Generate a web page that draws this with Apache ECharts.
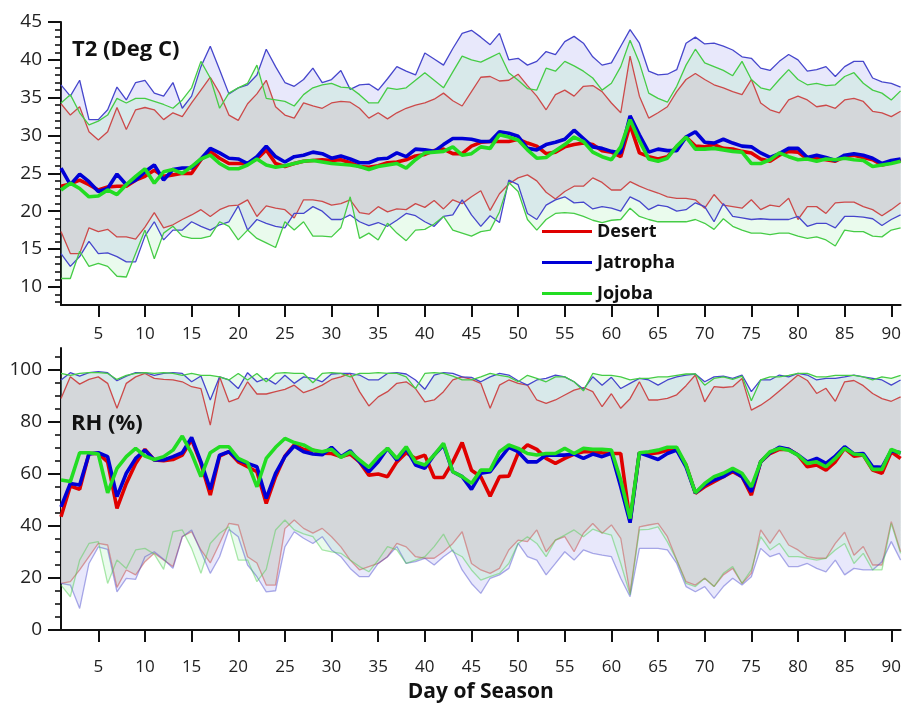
<!DOCTYPE html>
<html><head><meta charset="utf-8">
<script src="https://cdn.jsdelivr.net/npm/echarts@6/dist/echarts.min.js"></script>
<style>html,body{margin:0;padding:0;background:#fff}#c{width:904px;height:705px}</style>
</head><body><div id="c"></div>
<script>
// ---------- categories & ticks ----------
const days = Array.from({length: 91}, (_, i) => i + 1);
const xTickDays = [5,10,15,20,25,30,35,40,45,50,55,60,65,70,75,80,85,90];
const t2Ticks = [10,15,20,25,30,35,40,45];
const t2Minor = [8,9,11,12,13,14,16,17,18,19,21,22,23,24,26,27,28,29,31,32,33,34,36,37,38,39,41,42,43,44];
const rhTicks = [0,20,40,60,80,100];
const rhMinor = [5,10,15,25,30,35,45,50,55,65,70,75,85,90,95,105];

// ---------- T2 (Deg C) ----------
const desertMean = [23.3,23.6,24.1,23.5,22.8,23.2,23.3,23.3,24.1,24.6, 25.4,24.6,24.8,25.0,25.0,26.8,27.9,27.0,26.3,26.3, 26.3,26.9,28.1,26.3,25.9,26.3,26.6,26.7,26.8,26.7, 26.8,26.4,25.9,25.8,26.0,26.4,26.5,26.8,27.3,27.5, 28.0,28.2,27.6,27.6,28.6,29.1,29.2,29.2,29.2,29.5, 29.0,28.6,27.6,27.8,28.5,28.8,29.0,28.8,28.0,27.8, 27.2,31.4,27.7,27.2,26.9,27.2,28.5,29.8,28.6,28.5, 28.8,28.3,28.2,27.9,27.7,26.9,26.6,27.4,27.9,27.8, 26.9,27.0,26.8,26.6,27.2,27.4,27.1,26.8,26.1,26.4,26.8];
const jatrophaMean = [25.7,23.5,24.9,23.9,22.6,23.0,24.9,23.5,24.1,25.2, 26.1,24.1,25.5,25.7,25.7,26.9,28.3,27.7,27.0,26.9, 26.3,27.2,28.6,27.2,26.5,27.2,27.4,27.8,27.6,27.0, 27.3,26.9,26.4,26.4,26.9,27.0,27.7,27.2,28.2,28.1, 27.9,28.8,29.6,29.6,29.5,29.2,29.2,30.5,30.3,29.9, 28.3,28.1,28.8,29.1,29.5,30.7,29.6,28.5,28.3,27.9, 27.7,32.6,30.1,27.8,28.2,28.0,28.0,29.8,30.5,29.1, 29.0,29.5,29.0,28.6,28.5,27.7,27.1,27.6,28.3,28.3, 27.1,27.4,27.1,26.7,27.4,27.6,27.4,27.0,26.3,26.7,26.9];
const jojobaMean = [22.8,23.7,23.0,21.9,22.0,22.8,22.2,23.5,24.6,25.6, 23.7,25.2,25.5,25.0,25.9,26.9,27.4,26.3,25.6,25.6, 26.1,26.9,26.1,25.8,26.0,26.3,26.6,26.7,26.5,26.3, 26.2,26.1,25.9,25.5,25.9,26.1,26.3,25.7,26.8,27.7, 27.8,27.9,28.5,27.4,27.6,28.5,28.3,30.1,29.8,29.4, 28.1,27.0,27.1,28.0,28.8,29.8,29.2,27.8,27.2,26.8, 28.5,32.1,29.3,26.9,26.6,27.0,28.6,29.8,28.2,28.2, 28.3,28.1,27.9,27.8,26.3,26.3,26.8,27.7,27.2,26.8, 26.9,26.6,26.9,26.8,27.0,26.8,26.7,25.9,26.1,26.3,26.6];
const desertMax = [34.2,32.7,33.8,30.5,29.4,30.5,33.7,30.8,33.4,33.7, 33.4,32.1,33.0,32.5,34.3,36.0,37.7,35.6,32.7,32.0, 34.2,35.5,37.3,33.8,32.7,32.3,34.3,33.9,33.6,34.3, 34.5,34.4,33.6,32.3,33.0,32.2,33.0,33.6,34.0,34.3, 34.8,35.6,34.6,33.9,35.8,37.7,37.8,37.2,37.3,38.1, 36.6,35.2,33.4,35.4,36.0,35.2,36.5,36.6,35.8,34.3, 33.0,40.5,35.2,32.3,33.0,33.8,35.8,37.4,38.2,37.4, 36.7,36.3,35.8,35.4,37.4,34.3,33.4,33.0,34.7,35.2, 34.7,33.8,34.0,33.6,34.7,34.9,34.5,33.2,33.0,32.5,33.2];
const jatrophaMax = [36.7,35.2,37.3,32.1,32.1,33.4,36.4,34.7,37.0,37.3, 35.6,35.2,37.0,33.6,35.2,39.1,41.8,38.7,35.5,36.3, 36.7,38.0,41.4,39.1,37.0,36.5,37.4,38.9,37.0,37.4, 38.6,36.1,36.7,36.8,36.0,37.5,39.1,38.5,38.0,40.9, 40.1,39.3,41.5,43.5,43.9,43.0,42.0,43.5,40.0,40.2, 39.3,39.8,41.1,40.7,42.4,43.1,42.2,40.4,39.3,39.6, 41.8,44.0,42.2,38.5,38.0,38.1,38.7,42.2,43.0,42.1, 42.2,41.8,41.3,40.4,40.2,38.9,38.6,39.8,40.7,40.0, 38.5,38.7,39.1,37.8,39.1,39.8,39.8,37.6,37.1,36.9,36.4];
const jojobaMax = [34.3,35.4,33.0,31.4,31.9,32.7,34.9,34.3,34.9,34.9, 34.5,34.1,33.6,34.7,36.3,39.8,37.6,33.6,35.6,36.3, 36.9,39.3,34.9,34.7,34.5,33.9,35.4,36.3,36.7,36.9, 36.4,36.3,35.4,34.3,34.3,36.3,36.1,36.3,37.3,38.3, 37.3,36.3,38.4,40.5,40.0,39.7,40.3,40.9,38.3,37.3, 36.2,36.0,38.9,38.5,39.8,39.2,38.5,37.6,36.0,36.9, 39.1,42.6,39.6,35.6,34.9,34.4,36.5,39.3,41.4,39.6, 39.1,38.6,37.9,39.8,37.4,36.3,36.0,37.4,38.7,37.4, 36.7,36.9,36.6,36.7,37.8,38.3,36.9,36.0,35.6,34.7,35.9];
const desertMin = [17.3,14.4,14.4,17.8,17.3,17.6,16.6,16.6,16.3,17.9, 19.8,17.8,18.2,18.9,19.5,20.2,19.3,20.2,20.7,20.8, 21.5,19.3,20.7,20.4,20.2,19.1,21.5,21.5,21.3,20.8, 21.0,21.5,19.8,19.6,20.6,19.9,20.3,20.2,21.0,20.5, 21.4,20.3,21.5,21.0,21.9,22.7,20.1,22.3,23.6,24.4, 24.8,24.0,22.5,21.6,22.6,23.3,23.3,24.4,23.8,22.8, 22.8,23.9,23.3,22.8,22.4,21.9,21.7,21.7,21.5,20.4, 22.2,20.8,20.6,20.4,21.5,20.2,20.8,20.6,21.7,18.9, 20.6,20.6,19.7,21.1,21.2,21.2,20.6,20.2,19.4,20.2,21.1];
const jatrophaMin = [14.4,12.7,14.0,16.0,14.4,14.5,14.0,13.3,13.3,16.7, 18.6,16.2,17.5,17.5,18.6,18.0,17.5,18.2,18.6,20.7, 17.5,18.9,18.4,18.0,17.8,19.7,19.7,20.6,20.0,18.9, 18.9,19.5,18.6,18.1,18.5,18.0,18.8,19.7,19.4,18.6, 18.0,19.3,19.5,21.5,19.5,18.0,19.4,18.5,24.1,23.5, 19.7,18.9,20.8,21.5,21.9,21.1,21.2,20.3,20.6,20.4, 20.0,21.9,21.3,20.2,20.8,20.6,20.0,20.2,21.1,20.6, 18.6,21.0,19.3,19.1,18.9,19.0,18.9,18.9,18.9,19.3, 18.0,18.4,18.4,17.8,19.3,19.3,19.2,19.0,18.1,18.9,19.5];
const jojobaMin = [11.1,11.1,14.7,12.7,13.1,12.7,11.4,11.3,14.4,17.5, 13.7,17.1,18.0,16.7,16.4,16.4,16.7,18.6,18.0,16.2, 17.5,16.4,15.8,15.2,18.6,17.5,18.6,16.7,16.7,16.6, 17.8,21.9,16.4,17.1,16.2,18.4,17.1,16.1,17.5,17.6, 18.3,19.3,17.5,17.1,16.7,17.3,17.5,19.9,23.8,22.6, 18.9,17.5,18.9,19.7,19.8,19.7,19.3,18.8,18.5,18.8, 18.9,20.4,19.3,18.9,18.6,18.6,18.6,18.6,18.9,18.4, 17.6,19.0,18.0,17.5,17.1,17.1,16.9,17.1,17.1,16.7, 16.4,16.6,16.2,15.4,17.5,17.3,17.3,16.7,16.6,17.5,17.8];

// ---------- RH (%) ----------
const desertRHMean = [43.6,55.4,54.1,67.9,67.9,64.7,46.8,56.4,64.1,69.5, 65.4,65.1,65.6,67.3,73.3,64.1,51.9,66.9,68.6,64.7, 62.8,60.9,48.7,59.0,66.9,71.2,69.5,69.2,68.0,67.9, 66.7,67.7,64.7,59.6,60.0,59.0,64.7,68.2,66.0,67.3, 58.7,58.7,64.7,72.1,61.5,59.0,51.5,59.0,59.2,68.0, 71.2,69.5,66.0,64.1,66.0,67.7,68.6,68.6,68.2,67.9, 67.9,41.7,68.2,67.7,68.2,69.2,69.5,63.5,52.6,55.1, 57.1,59.0,60.9,59.0,51.9,64.7,67.9,69.5,69.5,67.3, 62.8,63.5,61.5,64.7,69.9,66.9,67.3,61.5,60.3,68.6,66.0];
const jatrophaRHMean = [47.4,56.4,55.8,67.7,68.2,66.7,51.3,60.3,66.0,69.2, 65.4,65.4,66.7,68.2,74.1,64.7,54.1,67.3,68.6,65.4, 64.1,62.8,50.6,60.3,66.7,70.8,68.6,67.7,67.4,70.3, 66.7,69.0,64.7,60.9,64.7,69.9,65.4,69.9,63.5,62.2, 67.3,71.2,60.9,59.0,54.1,60.3,60.9,65.6,70.3,68.6, 64.7,64.7,67.3,67.3,67.3,67.7,66.0,67.7,66.7,68.0, 55.1,41.3,68.2,66.9,65.6,67.9,69.2,62.8,52.8,55.8, 57.7,59.0,61.5,59.0,53.2,64.7,68.2,70.3,69.5,67.3, 64.7,66.0,64.1,66.9,70.5,67.7,67.9,62.8,62.6,69.0,68.2];
const jojobaRHMean = [57.7,57.1,68.2,68.2,67.7,52.8,62.2,66.7,69.9,66.9, 65.6,66.7,69.2,74.6,67.9,59.0,68.2,70.5,70.5,66.0, 64.4,55.1,66.0,70.3,73.7,72.1,71.2,69.2,68.6,69.5, 66.4,68.5,65.4,62.6,66.7,69.9,66.0,70.5,64.7,63.5, 67.3,71.8,60.9,59.0,56.4,61.5,61.5,68.6,71.2,69.9, 67.9,67.3,67.9,67.9,69.9,67.9,69.9,69.5,69.5,69.2, 57.7,42.9,68.2,68.6,69.2,70.3,70.3,63.5,52.8,56.4, 59.0,60.3,62.2,60.3,55.1,64.7,68.6,69.9,69.2,67.3, 64.1,64.7,62.8,66.0,69.9,67.7,67.3,61.8,61.8,69.5,68.0];
const desertRHMax = [89.1,97.4,94.6,96.4,97.4,94.9,85.3,94.9,97.4,98.7, 96.8,96.4,96.2,95.5,93.6,92.9,78.8,97.4,87.8,89.1, 95.5,90.8,90.8,91.7,92.6,94.2,91.3,92.6,94.2,96.4, 97.4,98.7,91.7,86.2,89.7,91.7,94.9,95.5,92.9,87.8, 88.5,91.7,96.2,97.4,96.4,94.9,85.3,94.2,96.2,94.9, 94.2,88.5,87.2,88.5,90.4,92.3,93.3,91.7,85.9,90.9, 85.3,89.0,95.5,88.5,88.5,89.1,90.5,94.0,98.1,87.8, 93.6,93.3,93.6,96.8,84.6,86.5,89.0,92.0,95.0,98.1, 96.0,91.0,93.0,88.0,95.5,96.0,94.0,91.0,89.0,88.0,89.7];
const jatrophaRHMax = [96.2,99.0,97.7,99.0,99.4,99.0,95.9,97.7,99.0,99.0, 98.0,98.7,99.0,98.7,95.5,97.7,88.5,97.4,96.2,92.9, 99.0,95.5,96.8,94.6,98.0,94.9,97.4,96.8,95.5,98.5, 98.7,98.7,98.1,96.2,96.2,98.7,99.0,98.5,96.2,92.6, 98.1,99.0,98.7,97.4,97.2,95.5,97.4,98.7,98.1,95.9, 94.2,96.2,96.8,98.1,97.4,95.5,92.6,97.4,94.2,97.2, 92.9,94.9,96.8,96.2,94.2,96.2,97.4,98.1,98.5,95.5, 97.4,97.7,96.8,98.1,91.7,96.2,96.2,98.1,97.4,98.7, 98.1,96.2,96.8,96.8,97.4,98.1,97.4,96.8,96.2,94.2,96.2];
const jojobaRHMax = [98.7,98.0,98.7,99.0,99.0,98.7,96.4,98.0,98.7,99.0, 98.7,99.0,98.7,98.0,98.7,98.0,98.0,97.4,96.2,98.7, 96.2,98.7,95.5,98.7,99.0,98.7,98.7,95.1,98.7,99.0, 98.7,97.4,98.7,98.7,99.0,98.7,98.7,97.4,92.9,98.7, 99.0,98.7,97.7,96.2,96.2,97.4,98.7,98.0,97.4,95.5, 98.0,96.8,95.5,97.4,97.4,95.5,92.0,98.7,98.0,98.0, 97.4,96.2,96.8,96.8,97.4,97.4,98.0,98.5,98.5,94.2, 96.8,97.4,96.4,97.7,88.2,96.2,97.4,97.4,98.0,98.7, 98.7,97.4,97.4,98.0,98.0,98.0,97.4,96.2,97.4,96.8,98.0];
const desertRHMin = [17.9,18.6,23.1,28.2,33.3,32.7,16.4,23.1,21.2,26.3, 29.5,26.9,24.4,35.9,37.8,30.8,25.8,33.3,41.0,40.4, 28.2,25.8,17.3,17.3,39.0,42.3,39.1,37.3,39.1,35.9, 32.0,26.9,23.1,24.4,25.6,28.2,33.3,32.0,28.2,27.6, 27.6,30.1,33.3,37.8,25.6,23.1,21.8,23.7,30.8,34.6, 34.0,38.5,30.1,34.6,35.9,30.1,37.2,41.0,37.2,40.4, 35.3,14.1,39.7,40.4,41.0,35.9,26.9,18.6,17.3,19.9, 16.7,21.2,23.7,17.9,21.8,38.5,33.3,38.5,32.7,30.8, 28.2,27.6,27.6,33.3,37.6,28.8,32.1,25.0,25.0,41.7,30.1];
const jatrophaRHMin = [17.9,17.3,8.3,25.6,32.0,31.0,14.7,19.9,19.5,28.2, 30.1,27.2,23.7,35.9,38.5,30.1,21.8,28.2,38.7,35.9, 25.0,20.5,14.7,15.1,32.0,37.8,35.3,33.3,35.9,30.8, 28.2,23.7,20.5,20.5,25.6,28.2,32.1,25.6,26.3,27.6, 25.0,28.2,30.8,23.1,17.9,14.1,19.9,21.2,23.7,33.3, 28.2,26.9,21.2,25.6,30.1,26.9,30.8,29.5,28.8,28.2, 19.9,12.8,31.4,31.4,31.4,30.8,25.6,16.7,14.7,16.7, 12.2,16.7,19.9,17.3,20.5,31.4,28.2,29.5,24.4,24.4, 25.6,23.7,22.4,26.9,21.2,23.7,23.1,23.1,26.3,34.0,26.9];
const jojobaRHMin = [17.3,12.8,26.9,33.3,34.0,17.9,26.9,23.7,30.8,31.4, 29.2,23.3,37.8,38.5,31.4,21.8,33.3,37.2,39.7,26.9, 26.9,18.6,23.3,38.5,42.3,38.5,37.0,35.9,30.8,30.1, 29.5,26.9,24.4,22.4,26.9,32.1,30.8,25.6,26.9,28.2, 32.1,36.9,30.1,28.2,23.1,19.2,20.5,21.8,25.6,33.3, 35.9,33.3,28.2,34.6,36.5,38.5,35.9,38.8,37.5,36.5, 25.6,13.5,38.5,38.7,39.7,33.9,26.9,17.9,16.7,19.9, 16.7,21.8,24.4,17.9,23.1,35.9,30.8,33.3,28.2,28.2, 27.6,26.9,27.6,30.8,33.3,25.6,29.5,23.1,23.1,41.0,29.5];

// ---------- styling ----------
const FONT = '"Open Sans", "DejaVu Sans", sans-serif';
const C = {
  desert:  {mean:'#e00000', env:'#cc4a4a', fill:'rgba(212,212,215,0.85)'},
  jatropha:{mean:'#0000d6', env:'#4646cc', fill:'rgba(160,160,240,0.24)'},
  jojoba:  {mean:'#22dd22', env:'#46cc46', fill:'rgba(160,235,175,0.22)'}
};

function bandSeries(id, lo, hi, fill, xi, yi) {
  return [
    {type:'line', name:id+'-lo', xAxisIndex:xi, yAxisIndex:yi, data:lo, stack:id, symbol:'none',
     lineStyle:{opacity:0}, silent:true, z:1, animation:false},
    {type:'line', name:id+'-hi', xAxisIndex:xi, yAxisIndex:yi, data:hi.map((v,i)=>+(v-lo[i]).toFixed(2)), stack:id, symbol:'none',
     lineStyle:{opacity:0}, areaStyle:{color:fill, opacity:1}, silent:true, z:1, animation:false}
  ];
}
function envSeries(id, data, color, xi, yi, op) {
  return {type:'line', name:id, xAxisIndex:xi, yAxisIndex:yi, data, symbol:'none', silent:true, z:3, animation:false,
    lineStyle:{color, width:1.3, opacity:op}};
}
function meanSeries(name, data, color, xi, yi, z) {
  return {type:'line', name, xAxisIndex:xi, yAxisIndex:yi, data, symbol:'none', silent:true, z, animation:false,
    itemStyle:{color}, lineStyle:{color, width:3.6}};
}

const series = [];
// top panel
series.push(...bandSeries('tJ', jatrophaMin, jatrophaMax, C.jatropha.fill, 0, 0));
series.push(...bandSeries('tG', jojobaMin, jojobaMax, C.jojoba.fill, 0, 0));
series.push(...bandSeries('tD', desertMin, desertMax, C.desert.fill, 0, 0));
series.push(envSeries('tDmax', desertMax, C.desert.env, 0, 0, 1));
series.push(envSeries('tJmax', jatrophaMax, C.jatropha.env, 0, 0, 1));
series.push(envSeries('tGmax', jojobaMax, C.jojoba.env, 0, 0, 1));
series.push(envSeries('tDmin', desertMin, C.desert.env, 0, 0, 1));
series.push(envSeries('tJmin', jatrophaMin, C.jatropha.env, 0, 0, 1));
series.push(envSeries('tGmin', jojobaMin, C.jojoba.env, 0, 0, 1));
series.push(meanSeries('Desert', desertMean, C.desert.mean, 0, 0, 5));
series.push(meanSeries('Jatropha', jatrophaMean, C.jatropha.mean, 0, 0, 6));
series.push(meanSeries('Jojoba', jojobaMean, C.jojoba.mean, 0, 0, 7));
// bottom panel
series.push(...bandSeries('rJ', jatrophaRHMin, jatrophaRHMax, C.jatropha.fill, 1, 2));
series.push(...bandSeries('rG', jojobaRHMin, jojobaRHMax, C.jojoba.fill, 1, 2));
series.push(...bandSeries('rD', desertRHMin, desertRHMax, C.desert.fill, 1, 2));
series.push(envSeries('rDmax', desertRHMax, C.desert.env, 1, 2, 1));
series.push(envSeries('rJmax', jatrophaRHMax, C.jatropha.env, 1, 2, 1));
series.push(envSeries('rGmax', jojobaRHMax, C.jojoba.env, 1, 2, 1));
series.push(envSeries('rDmin', desertRHMin, C.desert.env, 1, 2, 0.5));
series.push(envSeries('rJmin', jatrophaRHMin, C.jatropha.env, 1, 2, 0.45));
series.push(envSeries('rGmin', jojobaRHMin, C.jojoba.env, 1, 2, 0.45));
series.push(meanSeries('Desert', desertRHMean, C.desert.mean, 1, 2, 5));
series.push(meanSeries('Jatropha', jatrophaRHMean, C.jatropha.mean, 1, 2, 6));
series.push(meanSeries('Jojoba', jojobaRHMean, C.jojoba.mean, 1, 2, 7));

const isTick = (i, v) => xTickDays.indexOf(+v) >= 0;
function xAxisDef(gi, margin, extra) {
  return Object.assign({
    type:'category', gridIndex:gi, data:days, boundaryGap:false,
    axisLine:{lineStyle:{color:'#111', width:2}},
    axisTick:{length:12, interval:isTick, lineStyle:{color:'#111', width:2}},
    axisLabel:{interval:isTick, margin, fontSize:17, color:'#222', fontFamily:FONT},
    splitLine:{show:false}
  }, extra || {});
}
function yMain(gi, min, max, ticks) {
  return {type:'value', gridIndex:gi, min, max, position:'left', offset:0,
    axisLine:{show:true, lineStyle:{color:'#111', width:2}},
    axisTick:{show:true, length:13, customValues:ticks, lineStyle:{color:'#111', width:2}},
    axisLabel:{customValues:ticks, margin:19, fontSize:19, color:'#222', fontFamily:FONT},
    splitLine:{show:false}};
}
function yMinor(gi, min, max, ticks) {
  return {type:'value', gridIndex:gi, min, max, position:'left', offset:0,
    axisLine:{show:false},
    axisTick:{show:true, length:6, customValues:ticks, lineStyle:{color:'#111', width:1.6}},
    axisLabel:{show:false}, splitLine:{show:false}};
}

const option = {
  backgroundColor:'#ffffff',
  animation:false,
  title:[
    {text:'T2 (Deg C)', left:72, top:39, padding:0, textStyle:{fontSize:22, fontWeight:'bold', color:'#111', fontFamily:FONT}},
    {text:'RH (%)', left:71, top:413, padding:0, textStyle:{fontSize:22, fontWeight:'bold', color:'#111', fontFamily:FONT}}
  ],
  legend:{
    data:['Desert','Jatropha','Jojoba'], orient:'vertical', left:542, top:221, padding:0,
    icon:'rect', itemWidth:50, itemHeight:3, itemGap:10, selectedMode:false,
    textStyle:{fontSize:18, fontWeight:'bold', color:'#111', fontFamily:FONT, lineHeight:21}
  },
  grid:[
    {left:61, top:22, width:841, height:283},
    {left:61, top:348, width:841, height:282}
  ],
  xAxis:[
    xAxisDef(0, 21),
    xAxisDef(1, 29, {name:'Day of Season', nameLocation:'middle', nameGap:52,
      nameTextStyle:{fontSize:21, fontWeight:'bold', color:'#111', fontFamily:FONT}})
  ],
  yAxis:[
    yMain(0, 7.6, 45, t2Ticks), yMinor(0, 7.6, 45, t2Minor),
    yMain(1, 0, 108.5, rhTicks), yMinor(1, 0, 108.5, rhMinor)
  ],
  series
};
const chart = echarts.init(document.getElementById('c'), null, {renderer:'canvas'});
chart.setOption(option);
</script>
</body></html>
